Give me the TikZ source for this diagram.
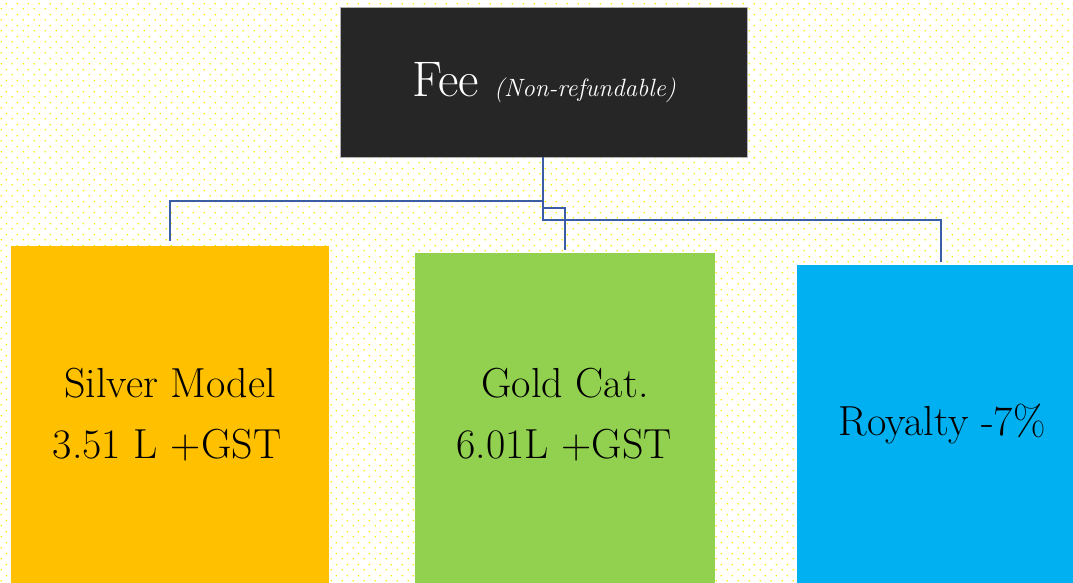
\documentclass[tikz,border=0pt]{standalone}
\usepackage{fontspec}
\usetikzlibrary{patterns}
\definecolor{feebg}{HTML}{262626}
\definecolor{silverbg}{HTML}{FFC000}
\definecolor{goldbg}{HTML}{92D050}
\definecolor{royalbg}{HTML}{00B0F0}
\definecolor{conn}{HTML}{3A5DA6}
\definecolor{dotc}{HTML}{F5F000}
\pgfdeclarepatternformonly{ydots}{\pgfqpoint{0pt}{0pt}}{\pgfqpoint{11pt}{11pt}}{\pgfqpoint{11pt}{11pt}}{%
  \pgfpathcircle{\pgfqpoint{2.5pt}{2.5pt}}{0.95pt}%
  \pgfpathcircle{\pgfqpoint{8pt}{8pt}}{0.95pt}%
  \pgfusepath{fill}}
\tikzset{
  box/.style={draw=none, inner sep=0pt, align=center, text=black},
  conline/.style={draw=conn, line width=2.2pt},
  big/.style={font=\fontsize{42}{46}\selectfont},
}
\begin{document}
\begin{tikzpicture}[x=1pt,y=-1pt]
\useasboundingbox (0,0) rectangle (1073,583);
\fill[white] (0,0) rectangle (1073,583);
\fill[pattern=ydots, pattern color=dotc] (0,0) rectangle (1073,583);
% boxes
\fill[feebg] (340,7) rectangle (747,157);
\draw[gray!60, line width=0.8pt] (340,7) rectangle (747,157);
\node[box, minimum width=407pt, minimum height=150pt] (fee) at (543.5,82) {};
\fill[silverbg] (11,246) rectangle (329,583);
\node[box, minimum width=318pt, minimum height=337pt] (silver) at (170,414.5) {};
\fill[goldbg] (415,253) rectangle (715,583);
\node[box, minimum width=300pt, minimum height=330pt] (gold) at (565,418) {};
\fill[royalbg] (797,265) rectangle (1073,583);
\node[box, minimum width=276pt, minimum height=318pt] (royal) at (935,424) {};
% texts
\node[anchor=base, text=white] (feetxt) at (544,97) {\fontsize{50}{54}\selectfont Fee \fontsize{25}{28}\selectfont\itshape (Non-refundable)};
\node[anchor=base, big] (s1) at (170,397) {Silver Model};
\node[anchor=base, big] (s2) at (167,458) {3.51 L +GST};
\node[anchor=base, big] (g1) at (565,397) {Gold Cat.};
\node[anchor=base, big] (g2) at (564,458) {6.01L +GST};
\node[anchor=base, big] (r1) at (942,435) {Royalty -7\%};
% connectors
\coordinate (fb) at (543,157);
\coordinate (st) at (170,241);
\coordinate (gt) at (565,250);
\coordinate (rt) at (941,262);
\draw[conline] (fb) |- (170,201) -- (st);
\draw[conline] (fb) |- (565,208) -- (gt);
\draw[conline] (fb) |- (941,220) -- (rt);
\end{tikzpicture}
\end{document}
